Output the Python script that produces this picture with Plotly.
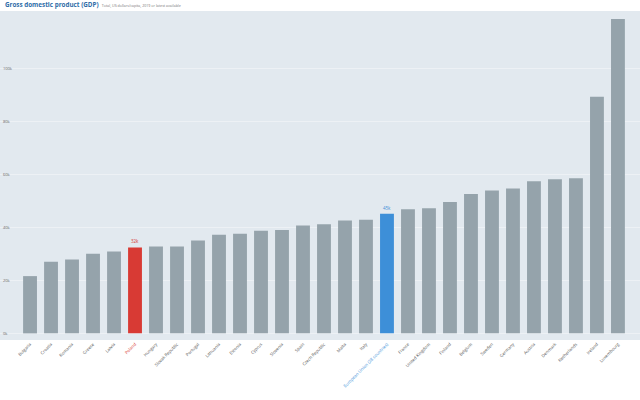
import plotly.graph_objects as go

countries = ["Bulgaria", "Croatia", "Romania", "Greece", "Latvia", "Poland", "Hungary",
             "Slovak Republic", "Portugal", "Lithuania", "Estonia", "Cyprus", "Slovenia",
             "Spain", "Czech Republic", "Malta", "Italy", "European Union (28 countries)",
             "France", "United Kingdom", "Finland", "Belgium", "Sweden", "Germany",
             "Austria", "Denmark", "Netherlands", "Ireland", "Luxembourg"]
gdp_k = [21.6, 27.0, 27.9, 30.0, 30.9, 32.4, 32.8, 32.8, 35.0, 37.2, 37.6, 38.7, 39.0,
         40.7, 41.2, 42.6, 42.9, 45.1, 46.8, 47.2, 49.6, 52.6, 53.9, 54.6, 57.4, 58.1,
         58.5, 89.3, 118.6]
bar_labels = {"Poland": "32k", "European Union (28 countries)": "45k"}
highlight = {"Poland": "#d83a34", "European Union (28 countries)": "#3d8fd8"}
tick_vals = [0, 20, 40, 60, 80, 100]
tick_text = ["0k", "20k", "40k", "60k", "80k", "100k"]

base_color = "#95a3ab"
colors = [highlight.get(c, base_color) for c in countries]
texts = [bar_labels.get(c, "") for c in countries]
tfcolors = [highlight.get(c, base_color) for c in countries]
xticks = []
for c in countries:
    if c in highlight:
        xticks.append(f'<span style="color:{highlight[c]}">{c}</span>')
    else:
        xticks.append(c)

fig = go.Figure(go.Bar(
    x=list(range(len(countries))), y=gdp_k,
    marker=dict(color=colors, line=dict(width=0)),
    width=0.66,
    text=texts, textposition="outside", cliponaxis=False,
    textfont=dict(size=4.5, color=tfcolors, family="Open Sans"),
))

fig.update_layout(
    width=640, height=400,
    margin=dict(l=0, r=0, t=11, b=60),
    paper_bgcolor="white", plot_bgcolor="#e2e9ef",
    showlegend=False,
    font=dict(family="Open Sans", color="#555"),
    xaxis=dict(range=[-1.43, 29.05], tickmode="array",
               tickvals=list(range(len(countries))), ticktext=xticks,
               tickangle=-45, tickfont=dict(size=4.3, color="#555"),
               showgrid=False, zeroline=False, ticks="", fixedrange=True,
               automargin=False),
    yaxis=dict(range=[-2.5, 121.6], tickmode="array", tickvals=tick_vals,
               ticktext=tick_text, ticklabelposition="inside",
               tickfont=dict(size=4, color="#666"),
               showgrid=True, gridcolor="#edf1f5", gridwidth=1,
               zeroline=False, fixedrange=True),
)
fig.add_annotation(x=0.004, y=1, xref="paper", yref="paper", yanchor="bottom",
                   xanchor="left", showarrow=False, yshift=0,
                   text='<b>Gross domestic product (GDP)</b>  '
                        '<span style="font-size:3.6px;color:#777">Total, US dollars/capita, 2019 or latest available</span>',
                   font=dict(size=6.3, color="#2e6da8", family="Open Sans"))

fig.write_html("out.html", config={"displayModeBar": False},
               post_script="document.body.style.margin='0';document.body.style.padding='0';")
